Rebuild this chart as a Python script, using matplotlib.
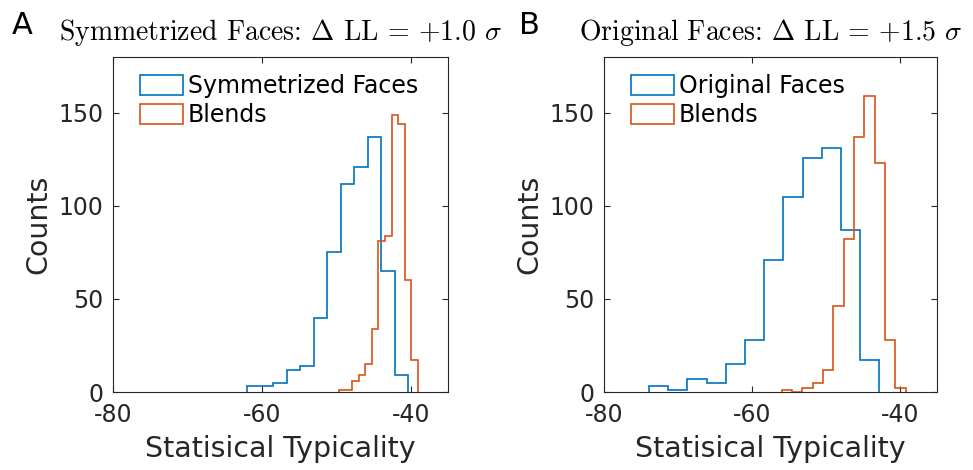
import numpy as np
import matplotlib
matplotlib.use('Agg')
import matplotlib.pyplot as plt

plt.rcParams['mathtext.fontset'] = 'cm'
plt.rcParams['font.family'] = 'DejaVu Sans'
plt.rcParams['axes.unicode_minus'] = False

# panel A: symmetrized faces vs blends
a_sym_edges = np.linspace(-62.06, -40.36, 13)
a_sym_counts = [3, 3, 5, 12, 14, 40, 75, 112, 121, 137, 65, 9]
a_bl_edges = np.linspace(-49.62, -39.06, 13)
a_bl_counts = [1, 1, 6, 9, 15, 34, 81, 84, 149, 144, 60, 17]

# panel B: original faces vs blends
b_orig_edges = np.linspace(-73.91, -42.8, 13)
b_orig_counts = [3, 1, 7, 5, 15, 28, 71, 105, 126, 131, 87, 17]
b_bl_edges = np.linspace(-56.0, -39.24, 13)
b_bl_counts = [1, 0, 2, 5, 12, 46, 82, 137, 159, 123, 28, 2]

titles = [r'Symmetrized Faces: $\Delta$ LL = +1.0 $\sigma$',
          r'Original Faces: $\Delta$ LL = +1.5 $\sigma$']
face_names = ['Symmetrized Faces', 'Original Faces']

blue = '#0072BD'
orange = '#D95319'
dark = '#262626'

fig = plt.figure(figsize=(9.73, 4.70), dpi=100)
ax1 = fig.add_axes([113/973, 78/470, 335/973, 335/470])
ax2 = fig.add_axes([604/973, 78/470, 333/973, 335/470])

panels = [
    (ax1, a_sym_edges, a_sym_counts, a_bl_edges, a_bl_counts),
    (ax2, b_orig_edges, b_orig_counts, b_bl_edges, b_bl_counts),
]

for i, (ax, fe, fc, be, bc) in enumerate(panels):
    ax.hist(fe[:-1], bins=fe, weights=fc, histtype='step', color=blue,
            linewidth=1.2, label=face_names[i])
    ax.hist(be[:-1], bins=be, weights=bc, histtype='step', color=orange,
            linewidth=1.2, label='Blends')
    ax.set_xlim(-80, -35)
    ax.set_ylim(0, 180)
    ax.set_xticks([-80, -60, -40])
    ax.set_yticks([0, 50, 100, 150])
    ax.tick_params(direction='in', top=True, right=True, labelsize=17,
                   colors=dark, length=4, width=0.8)
    ax.tick_params(axis='x', pad=8)
    ax.tick_params(axis='y', pad=7)
    for s in ax.spines.values():
        s.set_color(dark)
        s.set_linewidth(0.8)
    ax.set_xlabel('Statisical Typicality', fontsize=20.5, color=dark, labelpad=6)
    ax.set_ylabel('Counts', fontsize=20.5, color=dark, labelpad=4)
    ax.set_title(titles[i], fontsize=20, pad=12, color='black', family='cmr10')
    leg = ax.legend(loc='upper left', bbox_to_anchor=(0.075, 0.955),
                    borderaxespad=0, frameon=False, fontsize=17,
                    handlelength=1.8, handleheight=0.9, labelspacing=0.2,
                    borderpad=0.1, handletextpad=0.2)

fig.text(12/973, 1 - 34/470, 'A', fontsize=22, color='black')
fig.text(519/973, 1 - 34/470, 'B', fontsize=22, color='black')

fig.savefig('out.png', dpi=100)
